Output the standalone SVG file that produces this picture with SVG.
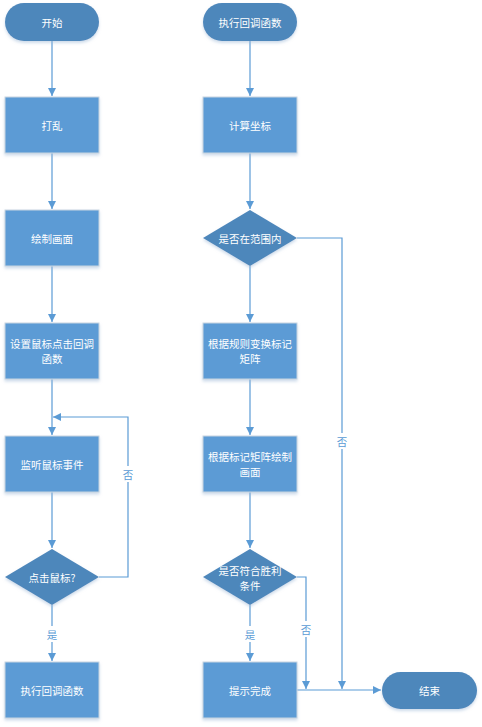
<svg xmlns="http://www.w3.org/2000/svg" width="482" height="727" viewBox="0 0 482 727">
<defs>
<marker id="arr" viewBox="0 0 10 10" refX="10" refY="5" markerWidth="8" markerHeight="8" markerUnits="userSpaceOnUse" orient="auto">
<path d="M0,0 L10,5 L0,10 Z" fill="#5B9BD5"/>
</marker>
<filter id="sh" x="-10%" y="-10%" width="125%" height="130%">
<feDropShadow dx="0" dy="2" stdDeviation="1.5" flood-color="#9DB8D6" flood-opacity="0.5"/>
</filter>
</defs>
<style>
.term{fill:#4E87BB;filter:url(#sh)}
.box{fill:#5B9BD5;stroke:#C9D5E1;stroke-width:1;filter:url(#sh)}
.dia{fill:#4E87BB;filter:url(#sh)}
.t{font-family:"Noto Sans CJK SC","Liberation Sans",sans-serif;font-size:10.5px;fill:#FFFFFF;text-anchor:middle;dominant-baseline:central}
.c{fill:none;stroke:#5B9BD5;stroke-width:1.2}
.lb{font-family:"Noto Sans CJK SC","Liberation Sans",sans-serif;font-size:10.5px;fill:#5B9BD5;text-anchor:middle;dominant-baseline:central}
.lbg{fill:#FFFFFF}
</style>
<g id="connectors">
<path class="c" d="M52,41 V96" marker-end="url(#arr)"/>
<path class="c" d="M52,153 V209" marker-end="url(#arr)"/>
<path class="c" d="M52,266 V322" marker-end="url(#arr)"/>
<path class="c" d="M52,379 V435" marker-end="url(#arr)"/>
<path class="c" d="M52,492 V548" marker-end="url(#arr)"/>
<path class="c" d="M52,605 V661" marker-end="url(#arr)"/>
<path class="c" d="M99,577 H128 V417 H53" marker-end="url(#arr)"/>
<path class="c" d="M250,41 V96" marker-end="url(#arr)"/>
<path class="c" d="M250,153 V209" marker-end="url(#arr)"/>
<path class="c" d="M250,266 V322" marker-end="url(#arr)"/>
<path class="c" d="M250,379 V435" marker-end="url(#arr)"/>
<path class="c" d="M250,492 V548" marker-end="url(#arr)"/>
<path class="c" d="M250,605 V661" marker-end="url(#arr)"/>
<path class="c" d="M297,238 H342 V689" marker-end="url(#arr)"/>
<path class="c" d="M297,577 H306 V689" marker-end="url(#arr)"/>
<path class="c" d="M297,690 H381" marker-end="url(#arr)"/>
<rect class="lbg" x="121" y="466" width="14" height="16"/>
<text class="lb" x="128" y="474">否</text>
<rect class="lbg" x="45" y="626" width="14" height="16"/>
<text class="lb" x="52" y="634">是</text>
<rect class="lbg" x="335" y="433" width="14" height="16"/>
<text class="lb" x="342" y="441">否</text>
<rect class="lbg" x="243" y="626" width="14" height="16"/>
<text class="lb" x="250" y="634">是</text>
<rect class="lbg" x="299" y="621" width="14" height="16"/>
<text class="lb" x="306" y="629">否</text>
</g>
<g id="start">
<rect class="term" x="5" y="3" width="94" height="38" rx="19" ry="19"/>
<text class="t" x="52" y="22">开始</text>
</g>
<g id="shuffle">
<rect class="box" x="5" y="97" width="94" height="56"/>
<text class="t" x="52" y="125">打乱</text>
</g>
<g id="draw">
<rect class="box" x="5" y="210" width="94" height="56"/>
<text class="t" x="52" y="238">绘制画面</text>
</g>
<g id="setcb">
<rect class="box" x="5" y="323" width="94" height="56"/>
<text class="t" x="52" y="343">设置鼠标点击回调</text>
<text class="t" x="52" y="358">函数</text>
</g>
<g id="listen">
<rect class="box" x="5" y="436" width="94" height="56"/>
<text class="t" x="52" y="464">监听鼠标事件</text>
</g>
<g id="clicked">
<polygon class="dia" points="52,549 99,577 52,605 5,577"/>
<text class="t" x="52" y="577">点击鼠标?</text>
</g>
<g id="runcb">
<rect class="box" x="5" y="662" width="94" height="56"/>
<text class="t" x="52" y="690">执行回调函数</text>
</g>
<g id="cbstart">
<rect class="term" x="203" y="3" width="94" height="38" rx="19" ry="19"/>
<text class="t" x="250" y="22">执行回调函数</text>
</g>
<g id="calc">
<rect class="box" x="203" y="97" width="94" height="56"/>
<text class="t" x="250" y="125">计算坐标</text>
</g>
<g id="inrange">
<polygon class="dia" points="250,210 297,238 250,266 203,238"/>
<text class="t" x="250" y="238">是否在范围内</text>
</g>
<g id="transform">
<rect class="box" x="203" y="323" width="94" height="56"/>
<text class="t" x="250" y="343">根据规则变换标记</text>
<text class="t" x="250" y="358">矩阵</text>
</g>
<g id="redraw">
<rect class="box" x="203" y="436" width="94" height="56"/>
<text class="t" x="250" y="456.5">根据标记矩阵绘制</text>
<text class="t" x="250" y="471.5">画面</text>
</g>
<g id="win">
<polygon class="dia" points="250,549 297,577 250,605 203,577"/>
<text class="t" x="250" y="570">是否符合胜利</text>
<text class="t" x="250" y="585">条件</text>
</g>
<g id="done">
<rect class="box" x="203" y="662" width="94" height="56"/>
<text class="t" x="250" y="690">提示完成</text>
</g>
<g id="end">
<rect class="term" x="382" y="672" width="95" height="37" rx="18.5" ry="18.5"/>
<text class="t" x="429.5" y="690.5">结束</text>
</g>
</svg>
